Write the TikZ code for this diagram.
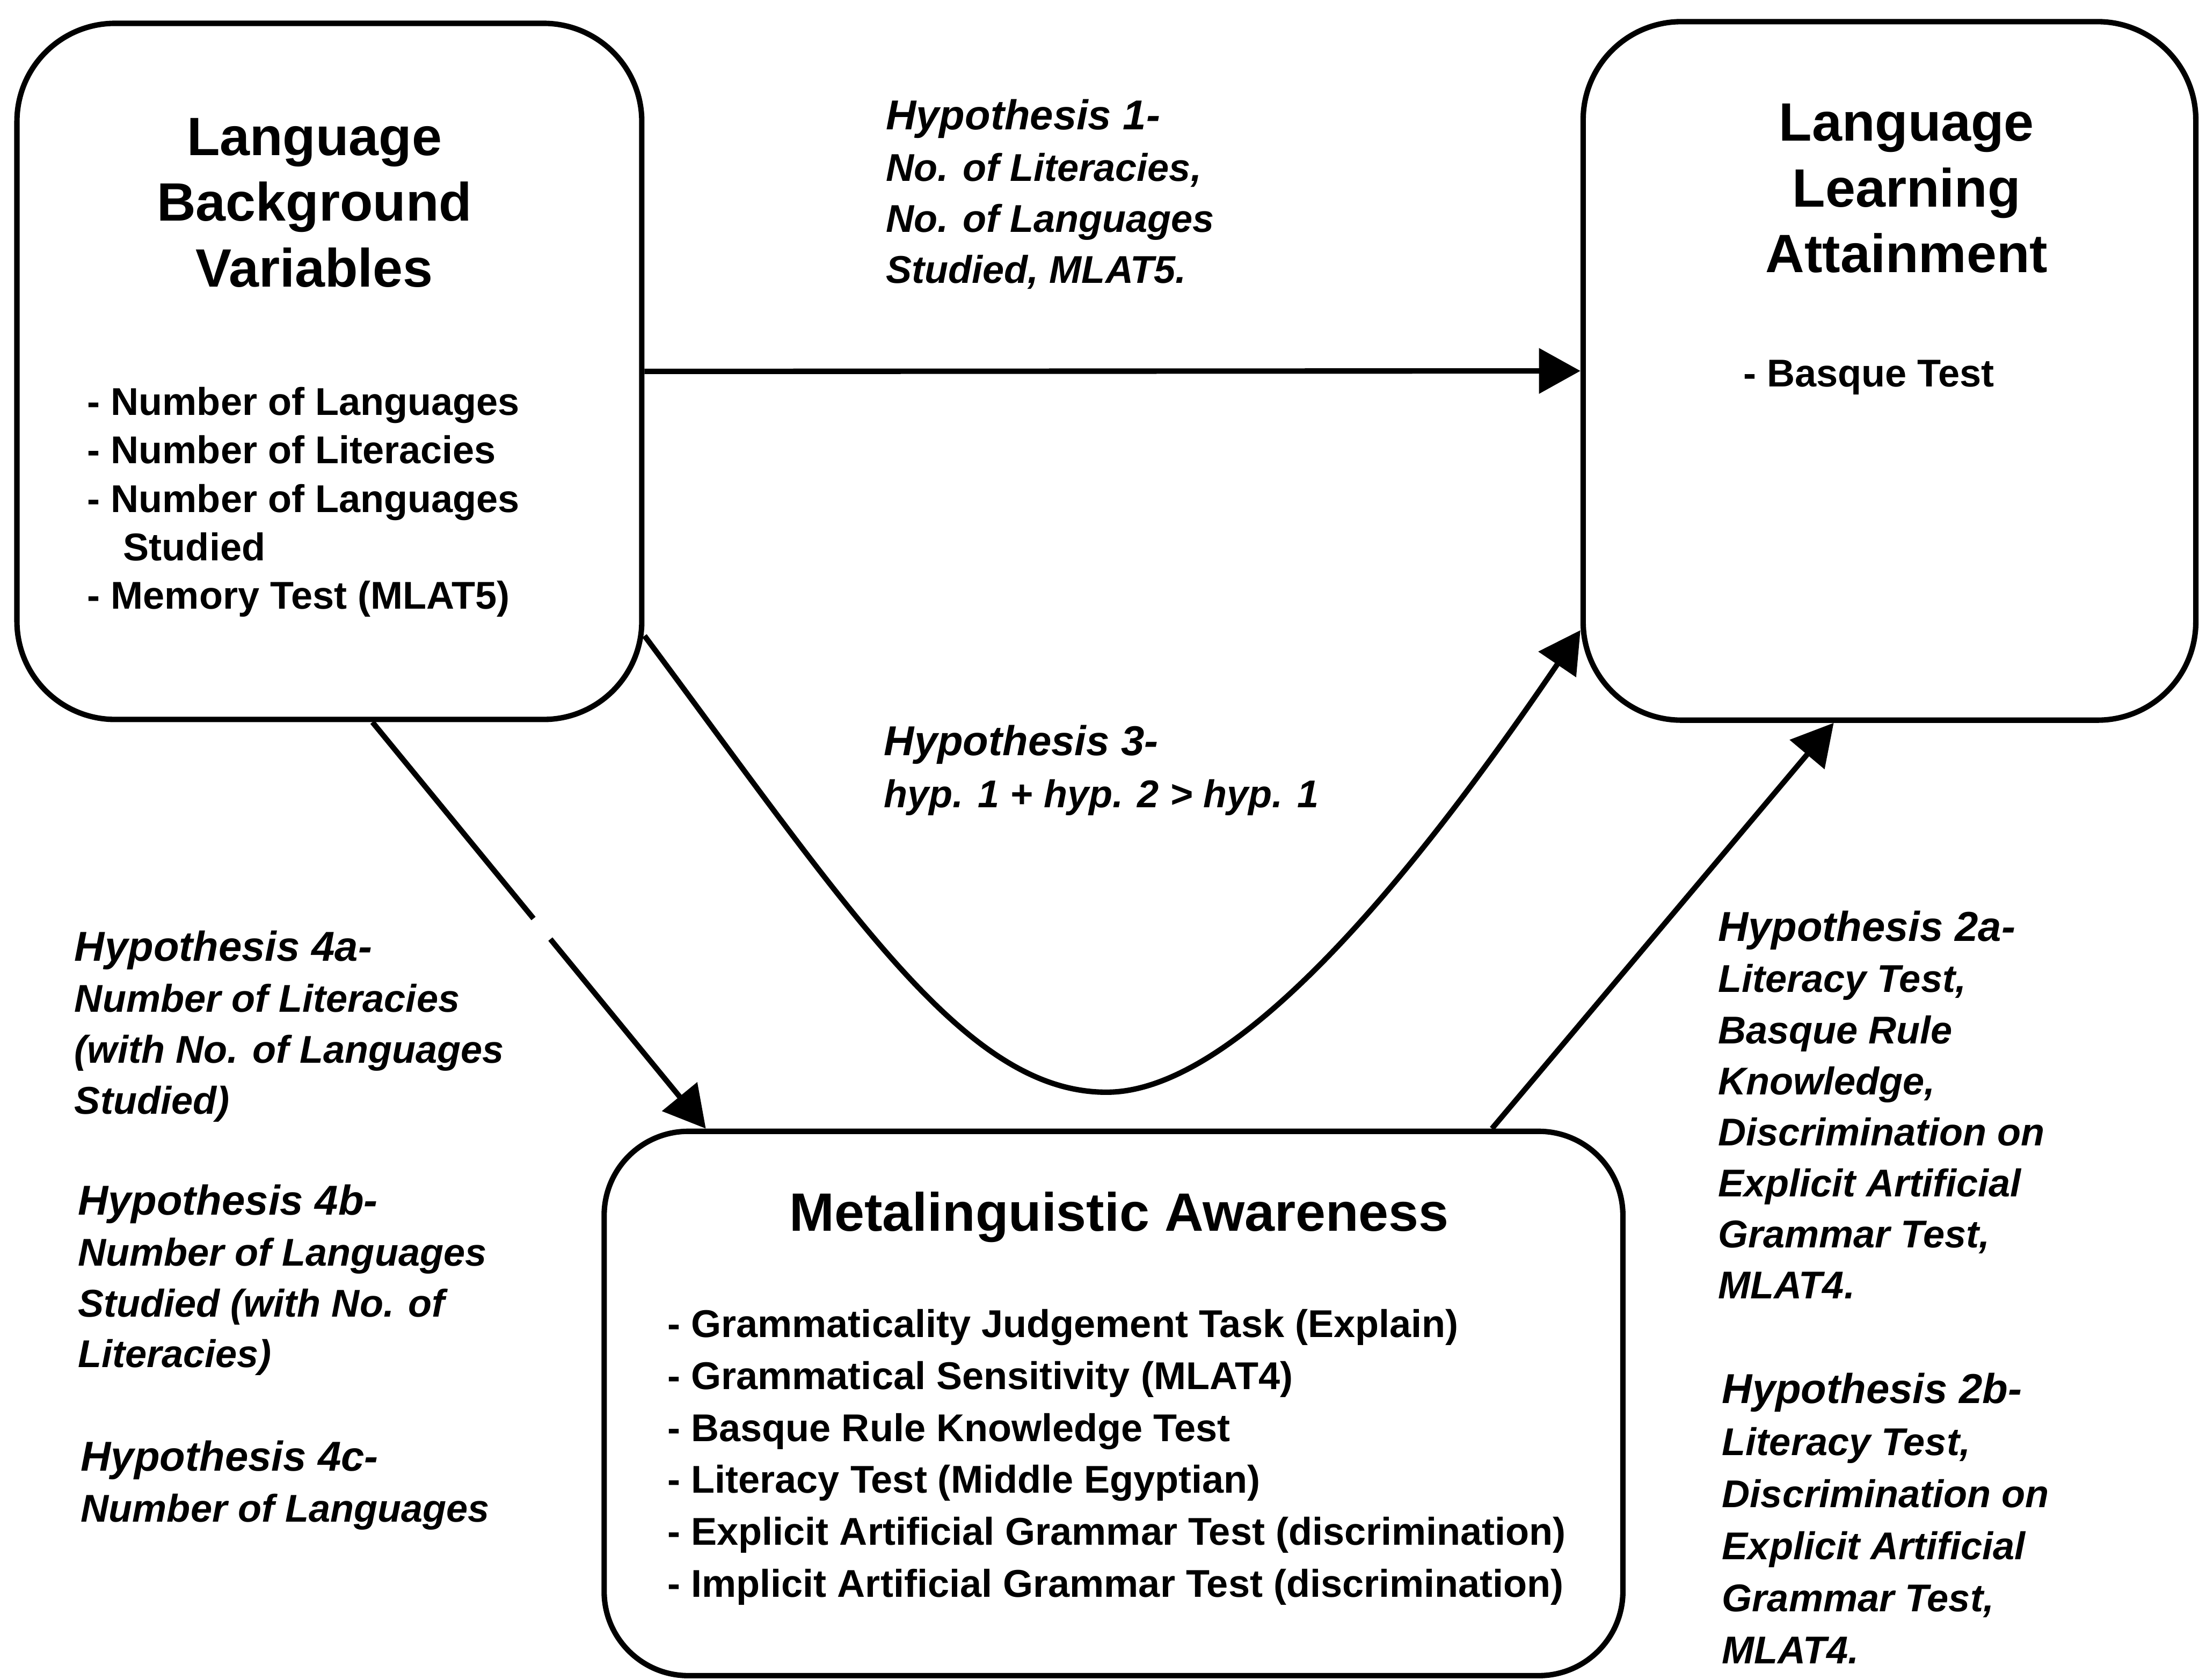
\documentclass[tikz,border=0pt]{standalone}
\usepackage{fontspec}
\setmainfont{Liberation Sans}
\usetikzlibrary{arrows.meta,calc}

% multi-line text nodes are placed by the baseline of their last line
\tikzset{
  panel/.style={rectangle, draw, line width=1.1pt, rounded corners=#1, inner sep=0pt},
  txt/.style={inner sep=0pt, outer sep=0pt, anchor=base west, align=left},
  body/.style={font=\bfseries\fontsize{7.85pt}{#1}\selectfont},
  hyp/.style={font=\bfseries\itshape\fontsize{7.85pt}{#1}\selectfont},
  heading/.style={inner sep=0pt, outer sep=0pt, anchor=base, align=center,
    font=\bfseries\fontsize{10.95pt}{13.3pt}\selectfont},
  link/.style={line width=1.1pt, -{Triangle[length=8.4pt,width=9pt]}},
}
\newcommand{\hyphead}[1]{{\fontsize{8.48pt}{8.48pt}\selectfont #1}}

\begin{document}
\begin{tikzpicture}[x=0.01cm,y=-0.01cm]
\useasboundingbox (0,0) rectangle (1568,1198);

% the three panels
\node[panel=0.70cm, minimum width=4.453cm, minimum height=4.962cm] (lbv) at (234.85,264.9) {};
\node[panel=0.70cm, minimum width=4.366cm, minimum height=4.979cm] (lla) at (1347.3,264.55) {};
\node[panel=0.60cm, minimum width=7.26cm, minimum height=3.88cm] (ma) at (794,1001) {};

% panel headings
\node[heading] (lbvtitle) at (224.2,204.5) {Language\\Background\\Variables};
\node[heading] (llatitle) at (1359.5,194.2) {Language\\Learning\\Attainment};
\node[heading] (matitle) at (798,878) {Metalinguistic Awareness};

% panel contents
\node[txt, body=9.85pt] (lbvlist) at (62.3,434.5) {- Number of Languages\\- Number of Literacies\\- Number of Languages\\\hspace*{7.3pt}Studied\\- Memory Test (MLAT5)};
\node[txt, body=10pt] (llalist) at (1243,276) {- Basque Test};
\node[txt, body=10.53pt] (malist) at (476,1139) {- Grammaticality Judgement Task (Explain)\\- Grammatical Sensitivity (MLAT4)\\- Basque Rule Knowledge Test\\- Literacy Test (Middle Egyptian)\\- Explicit Artificial Grammar Test (discrimination)\\- Implicit Artificial Grammar Test (discrimination)};

% hypothesis labels
\node[txt, hyp=10.39pt] (hyp1) at (631.8,202.1) {\hyphead{Hypothesis 1-}\\No. of Literacies,\\No. of Languages\\Studied, MLAT5.};
\node[txt, hyp=10.5pt] (hyp3) at (630.4,575.9) {\hyphead{Hypothesis 3-}\\hyp. 1 + hyp. 2 > hyp. 1};
\node[txt, hyp=10.33pt] (hyp4a) at (53.2,794.4) {\hyphead{Hypothesis 4a-}\\Number of Literacies\\(with No. of Languages\\Studied)};
\node[txt, hyp=10.33pt] (hyp4b) at (55.6,975.4) {\hyphead{Hypothesis 4b-}\\Number of Languages\\Studied (with No. of\\Literacies)};
\node[txt, hyp=10.33pt] (hyp4c) at (57.7,1085.3) {\hyphead{Hypothesis 4c-}\\Number of Languages};
\node[txt, hyp=10.36pt] (hyp2a) at (1225,926.4) {\hyphead{Hypothesis 2a-}\\Literacy Test,\\Basque Rule\\Knowledge,\\Discrimination on\\Explicit Artificial\\Grammar Test,\\MLAT4.};
\node[txt, hyp=10.56pt] (hyp2b) at (1228,1186.6) {\hyphead{Hypothesis 2b-}\\Literacy Test,\\Discrimination on\\Explicit Artificial\\Grammar Test,\\MLAT4.};

% connectors
\coordinate (h3low) at (789,779);
\draw[link] (lbv.east) -- (lla.west);
\draw[link] (lbv.-40) .. controls (608,653) and (689,779) .. (h3low)
  .. controls (879,779) and (1001,635) .. (lla.220.8);
\draw[link, dash pattern=on 51.5pt off 5.4pt on 400pt off 1pt] (lbv.-83.8) -- (ma.146.6);
\draw[link] (ma.36.2) -- (lla.-99.1);
\end{tikzpicture}
\end{document}
